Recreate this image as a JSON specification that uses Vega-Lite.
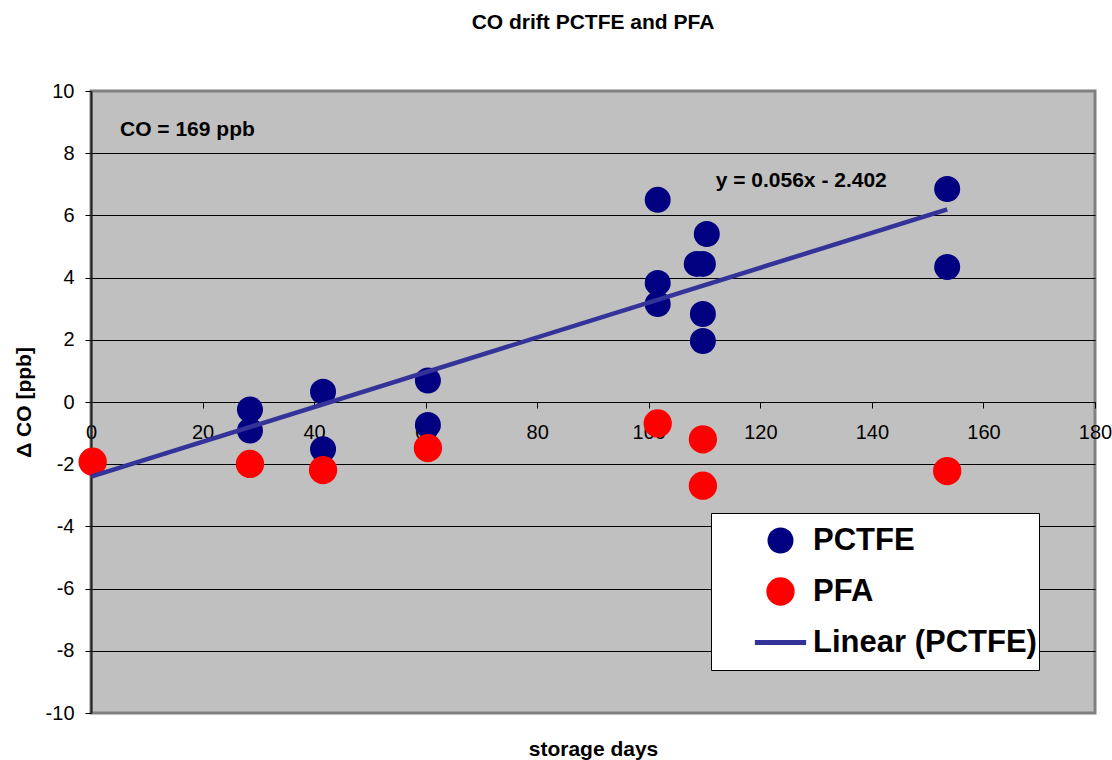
{
  "$schema": "https://vega.github.io/schema/vega-lite/v6.json",
  "width": 1004,
  "height": 622,
  "autosize": "none",
  "padding": {"left": 91, "top": 91, "right": 17, "bottom": 47},
  "config": {
    "font": "Liberation Sans",
    "view": {"fill": "#C0C0C0", "stroke": "#808080", "strokeWidth": 3}
  },
  "title": {
    "text": "CO drift PCTFE and PFA",
    "fontSize": 21,
    "fontWeight": "bold",
    "color": "black",
    "offset": 48,
    "anchor": "middle"
  },
  "datasets": {
    "points": [
      {"days": 28.5, "delta": -0.24, "series": "PCTFE"},
      {"days": 28.5, "delta": -0.92, "series": "PCTFE"},
      {"days": 41.6, "delta": 0.33, "series": "PCTFE"},
      {"days": 41.6, "delta": -1.52, "series": "PCTFE"},
      {"days": 60.4, "delta": 0.69, "series": "PCTFE"},
      {"days": 60.4, "delta": -0.74, "series": "PCTFE"},
      {"days": 101.6, "delta": 6.5, "series": "PCTFE"},
      {"days": 101.6, "delta": 3.83, "series": "PCTFE"},
      {"days": 101.6, "delta": 3.15, "series": "PCTFE"},
      {"days": 110.4, "delta": 5.4, "series": "PCTFE"},
      {"days": 108.6, "delta": 4.44, "series": "PCTFE"},
      {"days": 109.7, "delta": 4.44, "series": "PCTFE"},
      {"days": 109.7, "delta": 2.83, "series": "PCTFE"},
      {"days": 109.7, "delta": 1.96, "series": "PCTFE"},
      {"days": 153.5, "delta": 6.85, "series": "PCTFE"},
      {"days": 153.5, "delta": 4.34, "series": "PCTFE"},
      {"days": 0.3, "delta": -1.92, "series": "PFA"},
      {"days": 28.5, "delta": -1.99, "series": "PFA"},
      {"days": 41.6, "delta": -2.19, "series": "PFA"},
      {"days": 60.4, "delta": -1.48, "series": "PFA"},
      {"days": 101.6, "delta": -0.69, "series": "PFA"},
      {"days": 109.7, "delta": -1.2, "series": "PFA"},
      {"days": 109.7, "delta": -2.69, "series": "PFA"},
      {"days": 153.5, "delta": -2.22, "series": "PFA"}
    ],
    "trend": [
      {"days": 0, "delta": -2.402, "series": "Linear (PCTFE)"},
      {"days": 153.5, "delta": 6.194, "series": "Linear (PCTFE)"}
    ],
    "notes": [
      {"days": 5.2, "delta": 8.75, "label": "CO = 169 ppb"},
      {"days": 112.0, "delta": 7.1, "label": "y = 0.056x - 2.402"}
    ]
  },
  "encoding": {
    "x": {
      "field": "days",
      "type": "quantitative",
      "scale": {"domain": [0, 180], "nice": false, "zero": false},
      "axis": {
        "orient": "bottom",
        "offset": -311,
        "values": [0, 20, 40, 60, 80, 100, 120, 140, 160, 180],
        "grid": false,
        "domainColor": "black",
        "domainWidth": 1,
        "tickColor": "black",
        "tickSize": 6,
        "labelFontSize": 20,
        "labelColor": "black",
        "labelPadding": 14,
        "labelFlush": false,
        "labelOverlap": false,
        "labelExpr": "'' + datum.value",
        "title": "storage days",
        "titleFontSize": 21,
        "titleFontWeight": "bold",
        "titleColor": "black",
        "titleX": 502,
        "titleY": 347,
        "titleBaseline": "middle"
      }
    },
    "y": {
      "field": "delta",
      "type": "quantitative",
      "scale": {"domain": [-10, 10], "nice": false, "zero": false},
      "axis": {
        "values": [-10, -8, -6, -4, -2, 0, 2, 4, 6, 8, 10],
        "grid": true,
        "gridColor": {"condition": {"test": "abs(datum.value) == 10", "value": "#808080"}, "value": "black"},
        "gridWidth": 1,
        "domainColor": "#222222",
        "domainWidth": 2,
        "tickColor": "black",
        "tickSize": 6,
        "labelFontSize": 20,
        "labelColor": "black",
        "labelPadding": 11,
        "labelExpr": "'' + datum.value",
        "title": "Δ CO [ppb]",
        "titleFontSize": 21,
        "titleFontWeight": "bold",
        "titleColor": "black",
        "titleX": -67,
        "titleY": 311,
        "titleBaseline": "middle",
        "titleAlign": "center"
      }
    }
  },
  "layer": [
    {
      "data": {"name": "points"},
      "mark": {"type": "point", "filled": true, "opacity": 1},
      "encoding": {
        "color": {
          "field": "series",
          "type": "nominal",
          "scale": {
            "domain": ["PCTFE", "PFA", "Linear (PCTFE)"],
            "range": ["#000080", "#FF0000", "#333399"]
          },
          "legend": {
            "orient": "none",
            "legendX": 620,
            "legendY": 422,
            "title": null,
            "fillColor": "white",
            "strokeColor": "black",
            "padding": 2,
            "labelFontSize": 31,
            "labelFontWeight": "bold",
            "labelColor": "black",
            "labelLimit": 600,
            "clipHeight": 51,
            "symbolOffset": 52,
            "labelOffset": 17,
            "rowPadding": 0
          }
        },
        "stroke": {
          "field": "series",
          "type": "nominal",
          "scale": {
            "domain": ["PCTFE", "PFA", "Linear (PCTFE)"],
            "range": ["#000080", "#FF0000", "#333399"]
          }
        },
        "shape": {
          "field": "series",
          "type": "nominal",
          "scale": {
            "domain": ["PCTFE", "PFA", "Linear (PCTFE)"],
            "range": ["circle", "circle", "M-2,0H2"]
          }
        },
        "size": {
          "field": "series",
          "type": "nominal",
          "scale": {
            "type": "point",
            "padding": 0,
            "domain": ["PCTFE", "PFA", "Linear (PCTFE)"],
            "range": [676, 656]
          }
        },
        "strokeWidth": {
          "field": "series",
          "type": "nominal",
          "scale": {
            "type": "point",
            "padding": 0,
            "domain": ["PCTFE", "PFA", "Linear (PCTFE)"],
            "range": [0, 5]
          }
        }
      }
    },
    {
      "data": {"name": "trend"},
      "mark": {"type": "line", "strokeWidth": 4.5, "color": "#333399"},
      "encoding": {}
    },
    {
      "data": {"name": "notes"},
      "mark": {
        "type": "text",
        "align": "left",
        "baseline": "middle",
        "fontSize": 21,
        "fontWeight": "bold",
        "color": "black"
      },
      "encoding": {
        "text": {"field": "label"}
      }
    }
  ]
}
